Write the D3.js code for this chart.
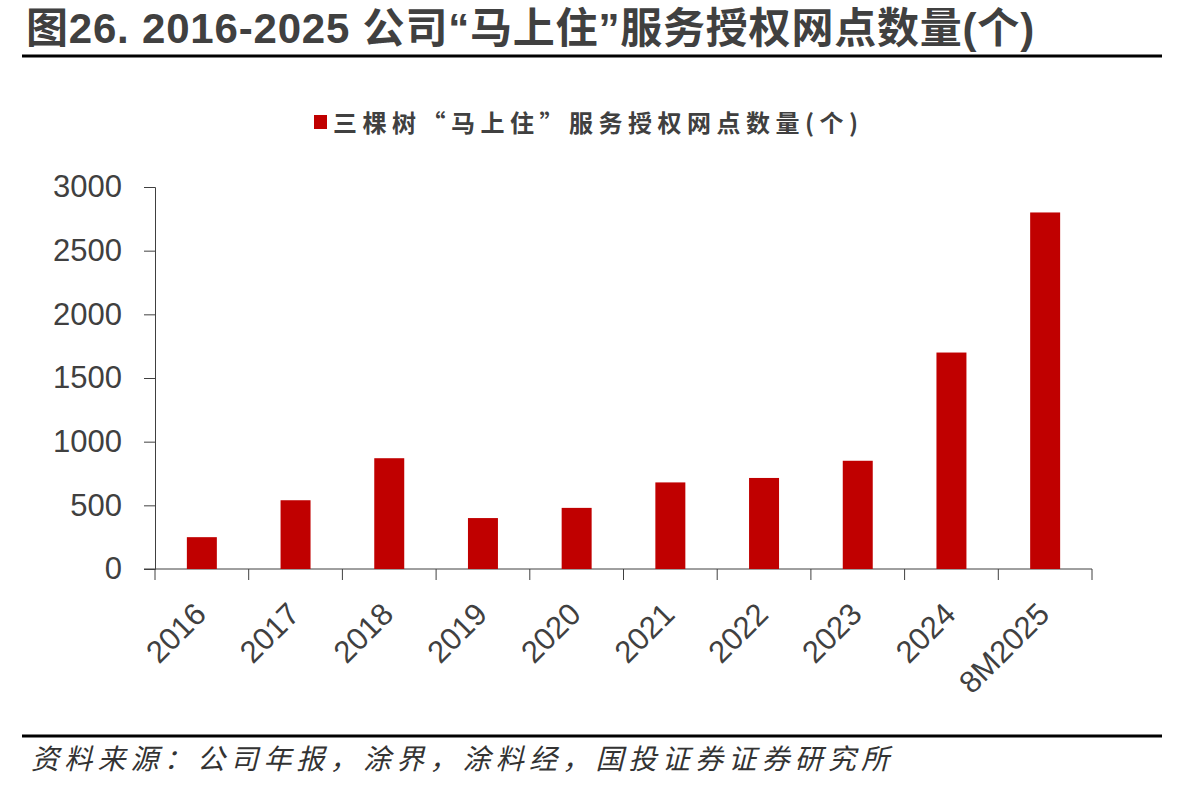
<!DOCTYPE html>
<html>
<head>
<meta charset="utf-8">
<script src="https://cdn.jsdelivr.net/npm/d3@7"></script>
<style>
  body { margin: 0; background: #fff; }
  svg { display: block; }
</style>
</head>
<body>
<div id="chart"></div>
<script>
// data
var categories = ["2016", "2017", "2018", "2019", "2020", "2021", "2022", "2023", "2024", "8M2025"];
var values = [250, 540, 870, 400, 480, 680, 715, 850, 1700, 2800];
var yTicks = [0, 500, 1000, 1500, 2000, 2500, 3000];
var seriesName = "三棵树\u201c马上住\u201d服务授权网点数量(个)";
var titleText = "图26. 2016-2025 公司\u201c马上住\u201d服务授权网点数量(个)";
var sourceText = "资料来源：公司年报，涂界，涂料经，国投证券证券研究所";

var W = 1180, H = 791;
var margin = { top: 187, left: 155, right: 88, bottom: 222 };
var width = W - margin.left - margin.right;
var height = H - margin.top - margin.bottom;

var svg = d3.select("#chart").append("svg")
  .attr("width", W)
  .attr("height", H);

// title + rules
svg.append("text")
  .attr("x", 26)
  .attr("y", 43)
  .attr("fill", "#404040")
  .style("font-family", "'Liberation Sans', 'Noto Sans CJK SC', sans-serif")
  .style("font-weight", "bold")
  .style("font-size", "42px")
  .style("letter-spacing", "0.8px")
  .text(titleText);
svg.append("line")
  .attr("x1", 22).attr("x2", 1162)
  .attr("y1", 56).attr("y2", 56)
  .attr("stroke", "#000").attr("stroke-width", 3);
svg.append("line")
  .attr("x1", 22).attr("x2", 1162)
  .attr("y1", 736).attr("y2", 736)
  .attr("stroke", "#000").attr("stroke-width", 3);
svg.append("text")
  .attr("x", 31)
  .attr("y", 769)
  .attr("fill", "#333")
  .style("font-family", "'Noto Sans CJK SC', sans-serif")
  .style("font-style", "italic")
  .style("font-size", "28px")
  .style("letter-spacing", "5.2px")
  .text(sourceText);

// legend
var legend = svg.append("g").attr("transform", "translate(314,115)");
legend.append("rect")
  .attr("width", 13).attr("height", 14)
  .attr("fill", "#C00000");
legend.append("text")
  .attr("x", 19)
  .attr("y", 8)
  .attr("dy", "0.36em")
  .attr("fill", "#404040")
  .style("font-family", "'Noto Sans CJK SC', sans-serif")
  .style("font-weight", "bold")
  .style("font-size", "24px")
  .style("letter-spacing", "5.5px")
  .text(seriesName);

var g = svg.append("g")
  .attr("transform", "translate(" + margin.left + "," + margin.top + ")");

var x = d3.scaleBand()
  .domain(categories)
  .range([0, width])
  .padding(0);

var y = d3.scaleLinear()
  .domain([0, 3000])
  .range([height, 0]);

// y axis
var yAxis = g.append("g")
  .call(d3.axisLeft(y).tickValues(yTicks).tickFormat(d3.format("d")).tickSize(11).tickPadding(22));
yAxis.selectAll("text")
  .attr("fill", "#404040")
  .style("font-family", "'Liberation Sans', Arial, sans-serif")
  .style("font-size", "31px");

// x axis: ticks on band boundaries
var xAxis = g.append("g")
  .attr("transform", "translate(0," + height + ")");
xAxis.append("line")
  .attr("x1", -11).attr("x2", width)
  .attr("stroke", "#404040");
xAxis.selectAll(".xtick")
  .data(categories.concat(["end"]))
  .enter().append("line")
  .attr("class", "xtick")
  .attr("x1", function (d, i) { return i * x.step(); })
  .attr("x2", function (d, i) { return i * x.step(); })
  .attr("y1", 0).attr("y2", 11)
  .attr("stroke", "#404040");
xAxis.selectAll(".xlabel")
  .data(categories)
  .enter().append("text")
  .attr("class", "xlabel")
  .attr("transform", function (d) {
    return "translate(" + (x(d) + x.bandwidth() / 2 + 6) + ",47) rotate(-45)";
  })
  .attr("text-anchor", "end")
  .attr("fill", "#404040")
  .style("font-family", function (d) {
    return d.length > 4 ? "'Liberation Sans Narrow', 'Liberation Sans', sans-serif" : "'Liberation Sans', Arial, sans-serif";
  })
  .style("font-size", "31px")
  .text(function (d) { return d; });

g.selectAll(".domain").attr("stroke", "#404040");
g.selectAll(".tick line").attr("stroke", "#404040");

// bars
var barW = x.bandwidth() * 0.32;
g.selectAll(".bar")
  .data(values)
  .enter().append("rect")
  .attr("class", "bar")
  .attr("x", function (d, i) { return x(categories[i]) + (x.bandwidth() - barW) / 2; })
  .attr("width", barW)
  .attr("y", function (d) { return y(d); })
  .attr("height", function (d) { return height - y(d); })
  .attr("fill", "#C00000");
</script>
</body>
</html>
